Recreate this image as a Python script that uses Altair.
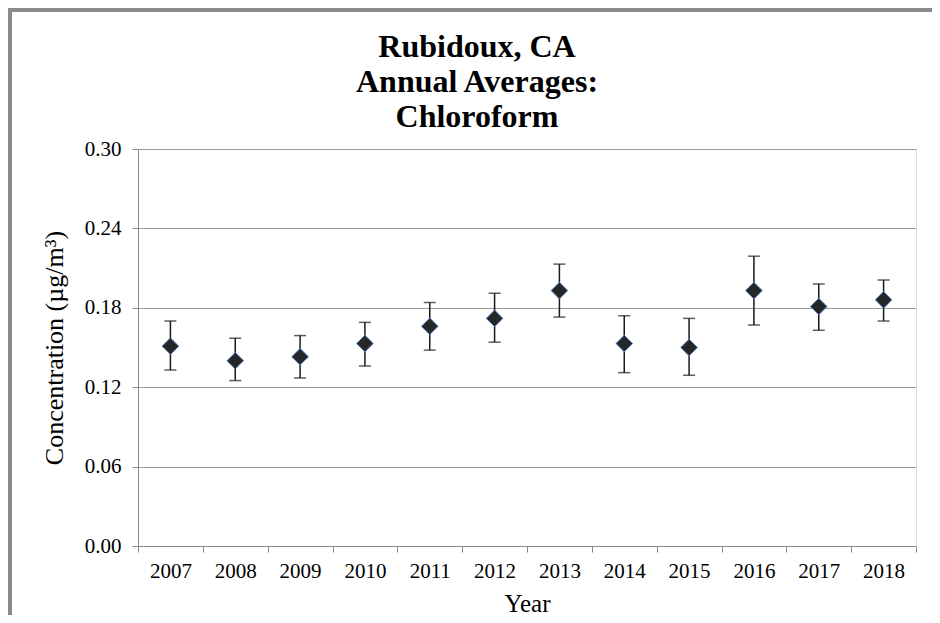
import altair as alt
import pandas as pd

years = ["2007", "2008", "2009", "2010", "2011", "2012", "2013", "2014", "2015", "2016", "2017", "2018"]
means = [0.151, 0.140, 0.143, 0.153, 0.166, 0.172, 0.193, 0.153, 0.150, 0.193, 0.181, 0.186]
upper = [0.170, 0.157, 0.159, 0.169, 0.184, 0.191, 0.213, 0.174, 0.172, 0.219, 0.198, 0.201]
lower = [0.133, 0.125, 0.127, 0.136, 0.148, 0.154, 0.173, 0.131, 0.129, 0.167, 0.163, 0.170]
y_ticks = [0.0, 0.06, 0.12, 0.18, 0.24, 0.30]

df = pd.DataFrame({"Year": years, "mean": means, "hi": upper, "lo": lower})

W, H = 778, 397
FONT = "Liberation Serif"

x_enc = alt.X(
    "Year:N",
    sort=years,
    scale=alt.Scale(paddingInner=0, paddingOuter=0),
    axis=alt.Axis(
        title="Year", labelAngle=0, tickBand="extent", tickSize=6,
        labelPadding=8, titlePadding=10, labelFontSize=21, titleFontSize=25,
        labelFont=FONT, titleFont=FONT, labelColor="#000", titleColor="#000",
        titleFontWeight="normal", domainColor="#8a8a8a", tickColor="#8a8a8a",
        grid=False,
    ),
)
y_scale = alt.Scale(domain=[0, 0.30], nice=False, zero=True)

base = alt.Chart(df)

rules = base.mark_rule(color="#1a1a1a", strokeWidth=1.5).encode(
    x=x_enc,
    y=alt.Y("lo:Q", scale=y_scale, axis=alt.Axis(
        title="Concentration (µg/m³)", values=y_ticks, format=".2f",
        tickSize=6, labelPadding=11, titlePadding=17,
        labelFontSize=21, titleFontSize=26, labelFont=FONT, titleFont=FONT,
        labelColor="#000", titleColor="#000", titleFontWeight="normal",
        domainColor="#8a8a8a", tickColor="#8a8a8a",
        grid=True, gridColor="#9a9a9a", gridWidth=1.2,
    )),
    y2="hi:Q",
)
caps_hi = base.mark_tick(color="#1a1a1a", orient="horizontal", size=12, thickness=1.5).encode(
    x=alt.X("Year:N", sort=years), y=alt.Y("hi:Q", scale=y_scale)
)
caps_lo = base.mark_tick(color="#1a1a1a", orient="horizontal", size=12, thickness=1.5).encode(
    x=alt.X("Year:N", sort=years), y=alt.Y("lo:Q", scale=y_scale)
)
pts = base.mark_point(
    shape="diamond", filled=True, fill="#262626", stroke="#4f7cc0",
    strokeWidth=1, size=275, opacity=1,
).encode(x=alt.X("Year:N", sort=years), y=alt.Y("mean:Q", scale=y_scale))

frame_top = alt.Chart(df).mark_rule(color="#8a8a8a", strokeWidth=4).encode(
    x=alt.value(-130), x2=alt.value(800), y=alt.value(-139), y2=alt.value(-139)
)
frame_left = alt.Chart(df).mark_rule(color="#8a8a8a", strokeWidth=4).encode(
    x=alt.value(-128), x2=alt.value(-128), y=alt.value(-141), y2=alt.value(470)
)

chart = alt.layer(rules, caps_hi, caps_lo, pts, frame_top, frame_left).properties(
    width=W, height=H,
    title=alt.TitleParams(
        text=["Rubidoux, CA", "Annual Averages:", "Chloroform"],
        font="'Liberation Serif', 'Times New Roman', serif", fontSize=32,
        fontWeight="bold", color="#000",
        anchor="middle", lineHeight=35, offset=-128, dx=-50,
    ),
    autosize=alt.AutoSizeParams(type="none"),
    padding={"left": 130, "top": 141, "right": 16, "bottom": 69},
).configure_view(stroke=None).configure(background="white")

chart.save("out.html", embed_options={"renderer": "svg", "actions": False})
